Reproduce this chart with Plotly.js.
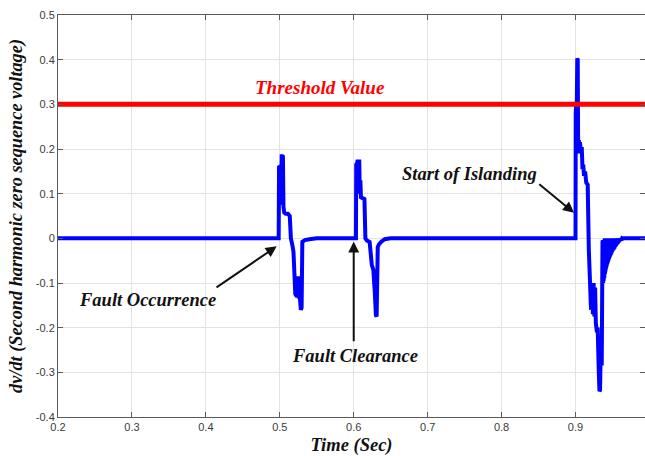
<!DOCTYPE html>
<html><head><meta charset="utf-8">
<script src="https://cdn.plot.ly/plotly-3.0.1.min.js"></script>
<style>html,body{margin:0;padding:0;background:#fff}#chart{width:645px;height:456px}</style>
</head><body><div id="chart"></div>
<script>
// Time samples (s) and dv/dt of second harmonic zero sequence voltage
const timeSec = [
  0.2, 0.4985,
  0.4990, 0.5010, 0.5018, 0.5026, 0.5034, 0.5042, 0.5050, 0.5060, 0.5080, 0.5110, 0.5135,
  0.5150, 0.5170, 0.5185, 0.5210, 0.5230, 0.5245, 0.5255, 0.5270, 0.5285, 0.5295, 0.5305,
  0.5340, 0.5400, 0.5500,
  0.6030, 0.6034, 0.6045, 0.6050, 0.6075, 0.6082, 0.6090, 0.6098, 0.6120, 0.6145, 0.6158,
  0.6180, 0.6215, 0.6245, 0.6265, 0.6285, 0.6300, 0.6310, 0.6325, 0.6340, 0.6370, 0.6420, 0.6500,
  0.9000, 0.9003, 0.9008, 0.9013, 0.9018, 0.9024, 0.9030, 0.9036, 0.9045, 0.9052, 0.9060,
  0.9070, 0.9085, 0.9095, 0.9105, 0.9115, 0.9130, 0.9145, 0.9165, 0.9180, 0.9210, 0.9225,
  0.9235, 0.9245, 0.9255, 0.9265, 0.9275, 0.9290, 0.9300, 0.9315, 0.9324, 0.9332, 0.9338,
  0.9355, 0.9365,
  0.9370, 0.9374, 0.9378, 0.9382, 0.9386, 0.9390, 0.9394, 0.9398, 0.9402, 0.9406, 0.9410,
  0.9414, 0.9418, 0.9422, 0.9426, 0.9430, 0.9434, 0.9438, 0.9442, 0.9446, 0.9450, 0.9454,
  0.9458, 0.9462, 0.9466, 0.9470, 0.9474, 0.9478, 0.9482, 0.9486, 0.9490, 0.9494, 0.9498,
  0.9502, 0.9506, 0.9510, 0.9514, 0.9518, 0.9522, 0.9526, 0.9530, 0.9535, 0.9540, 0.9545,
  0.9550, 0.9555, 0.9560, 0.9565, 0.9570, 0.9575, 0.9580, 0.9585, 0.9590, 0.9595, 0.9600,
  0.9608, 0.9615, 0.9622, 0.9630, 0.9640, 0.9650, 0.994
];
const dvdt = [
  0, 0,
  0.162, 0.160, 0.075, 0.188, 0.100, 0.186, 0.070, 0.058, 0.055, 0.055, 0.050,
  0.000, -0.015, -0.030, -0.125, -0.130, -0.085, -0.130, -0.130, -0.160, -0.155, -0.008,
  -0.004, -0.002, 0,
  0, 0.165, 0.168, 0.172, 0.172, 0.100, 0.130, 0.092, 0.090, 0.088, 0.000,
  -0.005, -0.008, -0.060, -0.070, -0.120, -0.172, -0.175, -0.020, -0.014, -0.008, -0.002, 0,
  0, 0.280, 0.300, 0.255, 0.310, 0.403, 0.400, 0.190, 0.220, 0.190, 0.215,
  0.200, 0.200, 0.155, 0.165, 0.140, 0.150, 0.125, 0.120, -0.025, -0.160, -0.100,
  -0.170, -0.100, -0.175, -0.110, -0.190, -0.210, -0.200, -0.300, -0.342, -0.340, -0.280,
  -0.280, -0.008,
  -0.005, -0.100, -0.004, -0.095, -0.004, -0.088, -0.004, -0.080, -0.004, -0.074, -0.003,
  -0.068, -0.003, -0.063, -0.003, -0.058, -0.003, -0.054, -0.003, -0.050, -0.003, -0.046,
  -0.002, -0.043, -0.002, -0.040, -0.002, -0.037, -0.002, -0.034, -0.002, -0.031, -0.002,
  -0.029, -0.001, -0.027, -0.001, -0.025, -0.001, -0.023, -0.001, -0.020, -0.001, -0.018,
  -0.001, -0.015, -0.001, -0.013, 0, -0.011, 0, -0.009, 0, -0.007, 0,
  -0.005, 0, -0.003, 0, -0.001, 0, 0
];
// Lower envelope of the fast decaying oscillation after islanding
const envelopeTime = [0.9368, 0.9400, 0.9420, 0.9440, 0.9470, 0.9500, 0.9530, 0.9570, 0.9610, 0.9650];
const envelopeValue = [-0.100, -0.080, -0.062, -0.048, -0.034, -0.024, -0.015, -0.008, -0.003, 0];
const thresholdTime = [0.2, 0.994];
const thresholdValue = [0.3, 0.3];
const xTickVals = [0.2, 0.3, 0.4, 0.5, 0.6, 0.7, 0.8, 0.9];
const xTickText = ['0.2', '0.3', '0.4', '0.5', '0.6', '0.7', '0.8', '0.9'];
const yTickVals = [0.5, 0.4, 0.3, 0.2, 0.1, 0, -0.1, -0.2, -0.3, -0.4];
const yTickText = ['0.5', '0.4', '0.3', '0.2', '0.1', '0', '-0.1', '-0.2', '-0.3', '-0.4'];

const serifBI = {family: 'Liberation Serif, Times New Roman, serif', weight: 'bold', style: 'italic'};

const traces = [
  {x: timeSec, y: dvdt, type: 'scatter', mode: 'lines',
   line: {color: '#0000ff', width: 4, simplify: false}, hoverinfo: 'skip'},
  {x: envelopeTime, y: envelopeValue, type: 'scatter', mode: 'lines', fill: 'tozeroy',
   fillcolor: '#0000ff', line: {color: '#0000ff', width: 2, shape: 'spline'}, hoverinfo: 'skip'},
  {x: thresholdTime, y: thresholdValue, type: 'scatter', mode: 'lines',
   line: {color: '#ff0000', width: 5}, hoverinfo: 'skip'}
];

const axisCommon = {
  showline: true, linecolor: '#5a5a5a', linewidth: 1, mirror: 'ticks',
  ticks: 'inside', ticklen: 5, tickcolor: '#5a5a5a', tickwidth: 1,
  showgrid: true, gridcolor: '#e3e3e3', gridwidth: 1, zeroline: false,
  tickfont: {family: 'Liberation Sans, Arial, sans-serif', size: 11, color: '#3a3a3a'}
};

const layout = {
  width: 645, height: 456,
  margin: {l: 58, r: 0, t: 15, b: 39},
  paper_bgcolor: '#ffffff', plot_bgcolor: '#ffffff',
  showlegend: false,
  xaxis: Object.assign({}, axisCommon, {
    range: [0.2, 0.994], tickmode: 'array', tickvals: xTickVals, ticktext: xTickText,
    title: {text: 'Time (Sec)', standoff: 7,
            font: Object.assign({}, serifBI, {size: 18.5, color: '#111'})}
  }),
  yaxis: Object.assign({}, axisCommon, {
    range: [-0.4, 0.5], tickmode: 'array', tickvals: yTickVals, ticktext: yTickText,
    title: {text: 'dv/dt (Second harmonic zero sequence voltage)', standoff: 8,
            font: Object.assign({}, serifBI, {size: 18.3, color: '#111'})}
  }),
  annotations: [
    {x: 0.554, y: 0.337, xref: 'x', yref: 'y', text: 'Threshold Value', showarrow: false,
     font: Object.assign({}, serifBI, {size: 19, color: '#ff0000'})},
    {x: 0.321, y: -0.138, xref: 'x', yref: 'y', text: 'Fault Occurrence', showarrow: false,
     font: Object.assign({}, serifBI, {size: 18.5, color: '#111'})},
    {x: 0.6024, y: -0.263, xref: 'x', yref: 'y', text: 'Fault Clearance', showarrow: false,
     font: Object.assign({}, serifBI, {size: 18.5, color: '#111'})},
    {x: 0.757, y: 0.145, xref: 'x', yref: 'y', text: 'Start of Islanding', showarrow: false,
     font: Object.assign({}, serifBI, {size: 18.5, color: '#111'})},
    {x: 0.4958, y: -0.018, ax: 0.4124, ay: -0.112, xref: 'x', yref: 'y', axref: 'x', ayref: 'y',
     text: '', showarrow: true, arrowhead: 2, arrowsize: 1.1, arrowwidth: 2, arrowcolor: '#111'},
    {x: 0.6, y: -0.007, ax: 0.6, ay: -0.234, xref: 'x', yref: 'y', axref: 'x', ayref: 'y',
     text: '', showarrow: true, arrowhead: 2, arrowsize: 1.1, arrowwidth: 2, arrowcolor: '#111'},
    {x: 0.898, y: 0.057, ax: 0.849, ay: 0.124, xref: 'x', yref: 'y', axref: 'x', ayref: 'y',
     text: '', showarrow: true, arrowhead: 2, arrowsize: 1.1, arrowwidth: 2, arrowcolor: '#111'}
  ]
};

Plotly.newPlot('chart', traces, layout, {staticPlot: true, displayModeBar: false});
</script>
</body></html>
